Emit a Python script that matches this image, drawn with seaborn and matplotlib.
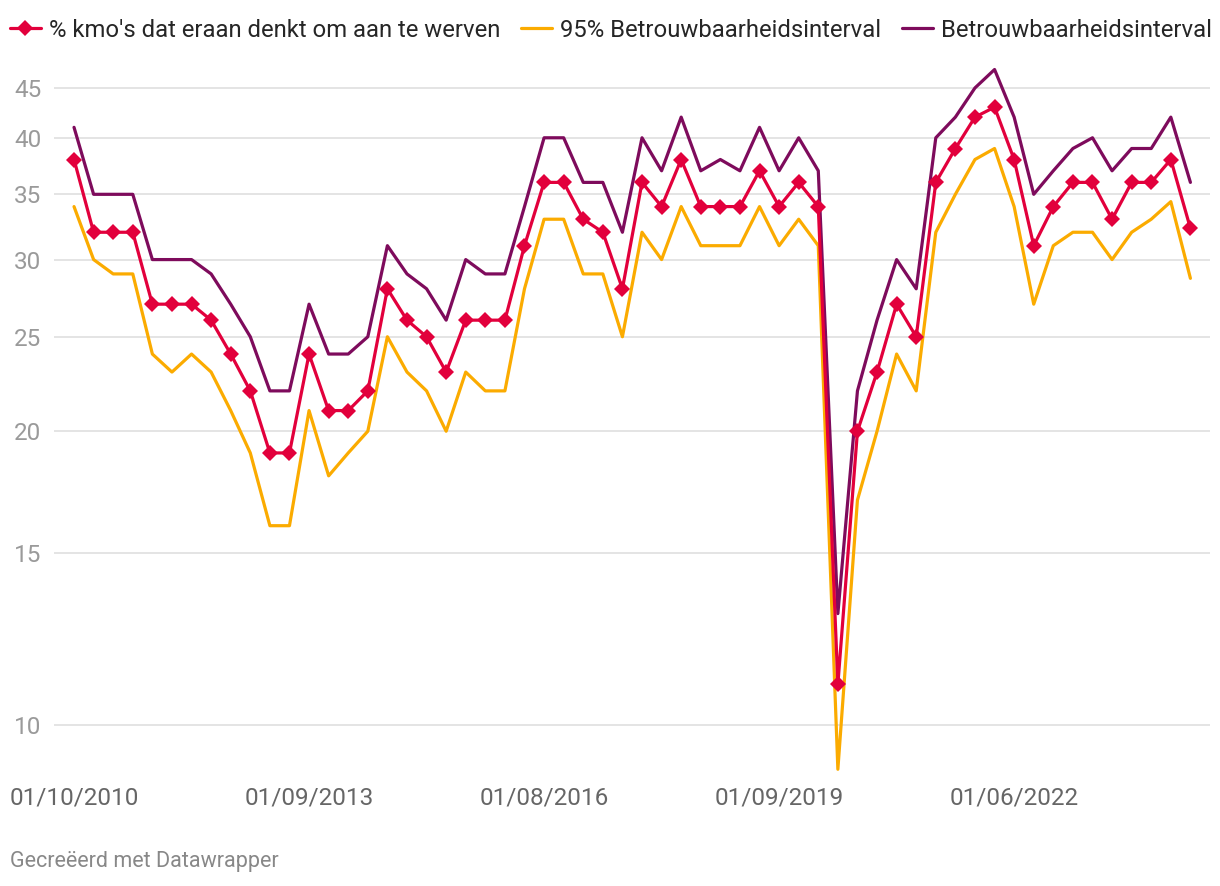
import numpy as np
import pandas as pd
import matplotlib
matplotlib.use("Agg")
import matplotlib.pyplot as plt
import seaborn as sns
from matplotlib.ticker import FixedLocator, NullLocator

# data (one point per survey wave)
pct_werven = [38, 32, 32, 32, 27, 27, 27, 26, 24, 22, 19, 19, 24, 21, 21, 22,
              28, 26, 25, 23, 26, 26, 26, 31, 36, 36, 33, 32, 28, 36, 34, 38,
              34, 34, 34, 37, 34, 36, 34, 11, 20, 23, 27, 25, 36, 39, 42, 43,
              38, 31, 34, 36, 36, 33, 36, 36, 38, 32.3]
lower_95 = [34, 30, 29, 29, 24, 23, 24, 23, 21, 19, 16, 16, 21, 18, 19, 20,
            25, 23, 22, 20, 23, 22, 22, 28, 33, 33, 29, 29, 25, 32, 30, 34,
            31, 31, 31, 34, 31, 33, 31, 9, 17, 20, 24, 22, 32, 35, 38, 39,
            34, 27, 31, 32, 32, 30, 32, 33, 34.4, 28.7]
upper_95 = [41, 35, 35, 35, 30, 30, 30, 29, 27, 25, 22, 22, 27, 24, 24, 25,
            31, 29, 28, 26, 30, 29, 29, 34, 40, 40, 36, 36, 32, 40, 37, 42,
            37, 38, 37, 41, 37, 40, 37, 13, 22, 26, 30, 28, 40, 42, 45, 47,
            42, 35, 37, 39, 40, 37, 39, 39, 42, 36]
tick_pos = [0, 12, 24, 36, 48]
tick_labels = ["01/10/2010", "01/09/2013", "01/08/2016", "01/09/2019", "01/06/2022"]
y_ticks = [10, 15, 20, 25, 30, 35, 40, 45]

names = ["% kmo's dat eraan denkt om aan te werven",
         "95% Betrouwbaarheidsinterval",
         "Betrouwbaarheidsinterval"]
df = pd.DataFrame({"wave": np.arange(len(pct_werven)),
                   names[0]: pct_werven, names[1]: lower_95, names[2]: upper_95})

sns.set_theme(style="white")
plt.rcParams["font.family"] = ["Roboto", "DejaVu Sans"]

red, yellow, purple = "#e2003c", "#fbab00", "#7e0b5c"

fig = plt.figure(figsize=(12.2, 8.86), dpi=100)
ax = fig.add_axes([0.0443, 0.1264, 0.9475, 0.8002])

sns.lineplot(data=df, x="wave", y=names[1], ax=ax, color=yellow, lw=2.3, label=names[1], zorder=2)
sns.lineplot(data=df, x="wave", y=names[2], ax=ax, color=purple, lw=2.3, label=names[2], zorder=3)
sns.lineplot(data=df, x="wave", y=names[0], ax=ax, color=red, lw=2.3, marker="D",
             markersize=8, markeredgewidth=0, label=names[0], zorder=4)

ax.set_yscale("log")
ax.set_ylim(8.9, 47.5)
ax.set_xlim(-1.02, 58)
ax.yaxis.set_major_locator(FixedLocator(y_ticks))
ax.yaxis.set_minor_locator(NullLocator())
ax.set_yticklabels([str(t) for t in y_ticks])
ax.set_xticks(tick_pos)
ax.set_xticklabels(tick_labels)
ax.grid(axis="y", color="#e2e2e2", lw=1.3)
ax.set_axisbelow(True)
for s in ax.spines.values():
    s.set_visible(False)
ax.tick_params(axis="y", length=0, pad=9, labelsize=17.5, labelcolor="#9a9a9a")
ax.tick_params(axis="x", length=0, pad=9, labelsize=17.5, labelcolor="#666666")
ax.set_xlabel("")
ax.set_ylabel("")

handles, labels = ax.get_legend_handles_labels()
ax.get_legend().remove()
order = [2, 0, 1]
fig.legend([handles[i] for i in order], [labels[i] for i in order],
           loc="center left", bbox_to_anchor=(0.008, 0.966), ncol=3, frameon=False,
           fontsize=17.2, handlelength=1.3, handletextpad=0.35, columnspacing=0.85,
           borderaxespad=0, borderpad=0)

fig.text(0.008, 0.022, "Gecreëerd met Datawrapper", fontsize=15.5, color="#888888")

fig.savefig("out.png", dpi=100)
